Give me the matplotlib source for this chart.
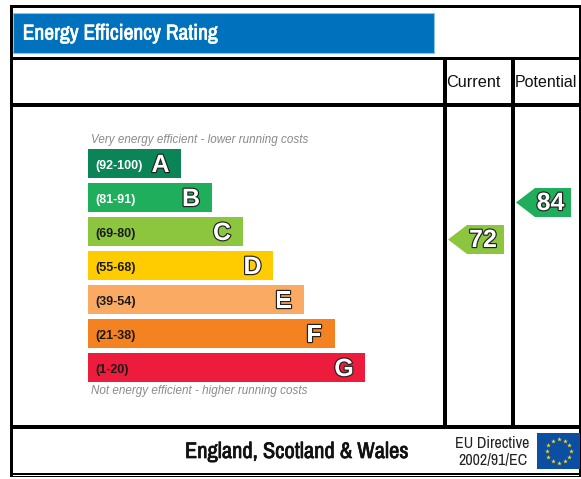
import numpy as np
import matplotlib
matplotlib.use('Agg')
import matplotlib.pyplot as plt
import matplotlib.patheffects as pe
from matplotlib.patches import Polygon, Rectangle

bands = ['A', 'B', 'C', 'D', 'E', 'F', 'G']
ranges = ['(92-100)', '(81-91)', '(69-80)', '(55-68)', '(39-54)', '(21-38)', '(1-20)']
band_ends = [181, 211.5, 242.5, 273, 304, 334.5, 364.5]
band_colors = ['#0b8457', '#1fae5b', '#8cc63f', '#ffcc00', '#fbaa63', '#f58220', '#ed1c3c']
current_value = 72
potential_value = 84
current_color = '#8cc63f'
potential_color = '#1fae5b'

plt.rcParams['font.family'] = ['Liberation Sans', 'DejaVu Sans']
NARROW = ['Archivo Narrow', 'Roboto Condensed', 'Liberation Sans']


def px(size):
    return size * 0.72


def outlined(ax, x, y, s, size):
    # white letter with a thin dark edge, as on the EPC graphic
    t = ax.text(x, y, s, ha='center', va='center', color='white', fontsize=px(size),
                fontweight='bold')
    t.set_path_effects([pe.Stroke(linewidth=1.7, foreground='#222222'), pe.Normal()])


def heavy(ax, x, y, s, size, color):
    # the narrow font has no bold cut, so thicken it with a stroke
    t = ax.text(x, y, s, ha='center', va='center', color=color, fontsize=px(size), family=NARROW)
    t.set_path_effects([pe.withStroke(linewidth=0.5, foreground=color)])


def arrow(ax, left, right, top, bottom, tip_len, color, value):
    mid = (top + bottom) / 2
    ax.add_patch(Polygon([(left, mid), (left + tip_len, top), (right, top), (right, bottom),
                          (left + tip_len, bottom)], closed=True, fc=color, ec='none'))
    outlined(ax, (left + right) / 2 + 7, mid + 0.5, str(value), 25)


def hline(ax, x0, x1, y, lw):
    ax.add_patch(Rectangle((x0, y), x1 - x0, lw, fc='black', ec='none', zorder=3))


def vline(ax, x, y0, y1, lw):
    ax.add_patch(Rectangle((x, y0), lw, y1 - y0, fc='black', ec='none', zorder=3))


fig = plt.figure(figsize=(5.81, 4.79), dpi=100)
ax = fig.add_axes([0, 0, 1, 1])
ax.set_xlim(0, 581)
ax.set_ylim(479, 0)
ax.axis('off')

# frame
hline(ax, 10, 581, 5, 3)
hline(ax, 10, 581, 57, 3)
hline(ax, 10, 581, 103, 3.5)
hline(ax, 10, 581, 425, 3.5)
hline(ax, 10, 581, 473, 2)
hline(ax, 10, 581, 476, 1.2)
vline(ax, 10, 5, 477, 3)
vline(ax, 579, 5, 477, 1.5)
vline(ax, 443, 57, 425, 3.5)
vline(ax, 511, 57, 425, 3.5)

# header
ax.add_patch(Rectangle((13, 13), 421, 40, fc='#0071bc', ec='#8cc4e4', lw=0.8))
heavy(ax, 120, 33.5, 'Energy Efficiency Rating', 21.5, 'white')
ax.text(473.5, 82, 'Current', fontsize=px(16.2), ha='center', va='center', color='#111111')
ax.text(545.5, 82, 'Potential', fontsize=px(16), ha='center', va='center', color='#111111')

# bands
ys = 163.5 + 34 * np.arange(len(bands))
ax.barh(ys, np.array(band_ends) - 88, left=88, height=29, color=band_colors)
for y, end, band, rng in zip(ys, band_ends, bands, ranges):
    ax.text(95, y + 2, rng, fontsize=px(12.5), fontweight='bold', va='center', ha='left',
            color='white' if band in 'AB' else '#1a1a1a')
    outlined(ax, end - 20.5, y + 1.5, band, 25)

ax.text(91, 140, 'Very energy efficient - lower running costs', fontsize=px(11.6), style='italic',
        color='#8a8a8a', va='center', ha='left')
ax.text(91, 391, 'Not energy efficient - higher running costs', fontsize=px(11.6), style='italic',
        color='#8a8a8a', va='center', ha='left')

# ratings
arrow(ax, 448, 504, 225, 254, 19, current_color, current_value)
arrow(ax, 516, 571, 188, 217, 19, potential_color, potential_value)

# footer
heavy(ax, 297, 452, 'England, Scotland & Wales', 22.5, '#111111')
ax.text(492.5, 443, 'EU Directive', fontsize=px(16), family=NARROW, ha='center', va='center',
        color='#222222')
ax.text(492.5, 460, '2002/91/EC', fontsize=px(16), family=NARROW, ha='center', va='center',
        color='#222222')

# flag
ax.add_patch(Rectangle((537, 433), 43, 36, fc='#0b4ea2', ec='none', zorder=4))
ang = np.arange(12) * np.pi / 6
ax.scatter(558.5 + 12 * np.cos(ang), 451 + 12 * np.sin(ang), marker='*', s=12, c='#ffdd00',
           linewidths=0, zorder=5)

fig.savefig('out.png', dpi=100)
